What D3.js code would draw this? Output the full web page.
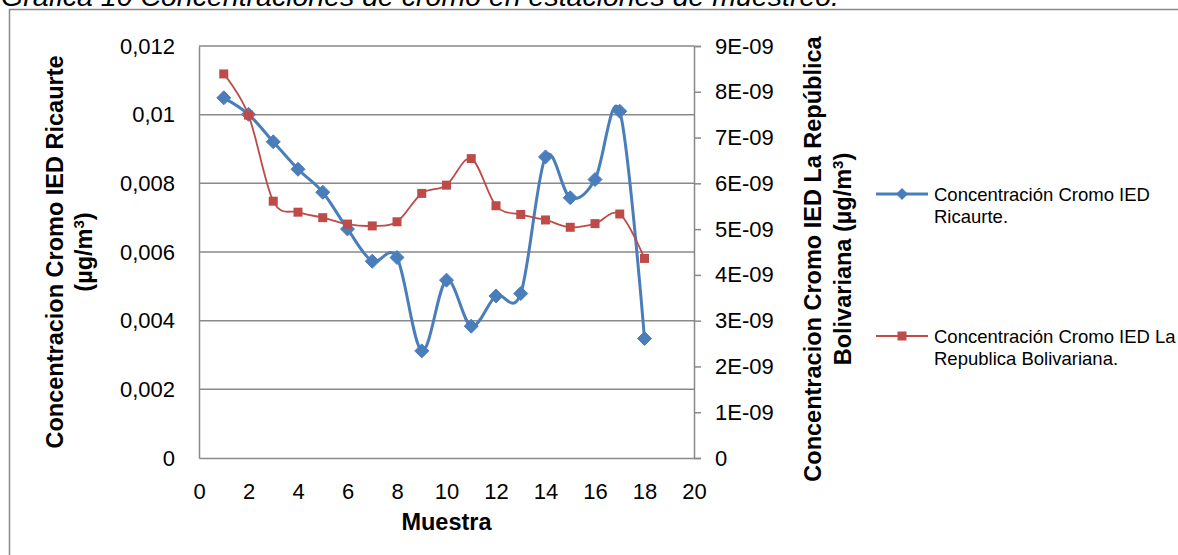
<!DOCTYPE html>
<html>
<head>
<meta charset="utf-8">
<script src="https://cdn.jsdelivr.net/npm/d3@7"></script>
<style>
  body { margin: 0; background: #fff; }
  svg { display: block; font-family: "Liberation Sans", Arial, sans-serif; }
</style>
</head>
<body>
<div id="chart"></div>
<script>
// sample numbers 1..18
const muestras = d3.range(1, 19);
// IED Ricaurte (left axis, µg/m³)
const ricaurte = [0.01049, 0.01001, 0.00921, 0.00841, 0.00774, 0.00667, 0.00573, 0.00584, 0.00312,
  0.00518, 0.00384, 0.00472, 0.00479, 0.00877, 0.00758, 0.00811, 0.0101, 0.00348];
// IED La República Bolivariana (right axis, µg/m³)
const bolivariana = [8.39e-9, 7.49e-9, 5.61e-9, 5.37e-9, 5.25e-9, 5.11e-9, 5.07e-9, 5.16e-9, 5.78e-9,
  5.96e-9, 6.54e-9, 5.51e-9, 5.32e-9, 5.20e-9, 5.04e-9, 5.12e-9, 5.33e-9, 4.36e-9];
const xTicks = d3.range(0, 21, 2);
const leftTicks = [0, 0.002, 0.004, 0.006, 0.008, 0.01, 0.012];
const leftLabels = ["0", "0,002", "0,004", "0,006", "0,008", "0,01", "0,012"];
const rightTicks = d3.range(0, 10).map(d => d * 1e-9);
const rightLabels = ["0", "1E-09", "2E-09", "3E-09", "4E-09", "5E-09", "6E-09", "7E-09", "8E-09", "9E-09"];

const W = 1178, H = 555;
const plot = { left: 199, right: 694, top: 46, bottom: 458 };
const blue = "#4a7ebb", red = "#be4b48", grid = "#898989";
const tickFont = 22, titleFont = 23.5;

const svg = d3.select("#chart").append("svg").attr("width", W).attr("height", H);

// title (cut at top as in the source)
svg.append("text").attr("x", 1).attr("y", 6)
  .attr("font-size", 28.5).attr("font-style", "italic").attr("fill", "#000")
  .text("Gráfica 10 Concentraciones de cromo en estaciones de muestreo.");

// chart frame
svg.append("rect").attr("x", 9.5).attr("y", 9.5).attr("width", W + 20).attr("height", H + 20)
  .attr("fill", "none").attr("stroke", grid).attr("stroke-width", 1.5);

const x = d3.scaleLinear().domain([0, 20]).range([plot.left, plot.right]);
const yL = d3.scaleLinear().domain([0, 0.012]).range([plot.bottom, plot.top]);
const yR = d3.scaleLinear().domain([0, 9e-9]).range([plot.bottom, plot.top]);

// gridlines
svg.append("g").selectAll("line").data(leftTicks.slice(1)).join("line")
  .attr("x1", plot.left).attr("x2", plot.right)
  .attr("y1", d => yL(d)).attr("y2", d => yL(d))
  .attr("stroke", grid).attr("stroke-width", 1.5);

function styleText(g) {
  g.selectAll("text").attr("font-size", tickFont).attr("fill", "#000")
    .attr("font-family", "Liberation Sans, Arial, sans-serif");
}

// left axis
const axL = svg.append("g").attr("transform", `translate(${plot.left},0)`)
  .call(d3.axisLeft(yL).tickValues(leftTicks).tickFormat((d, i) => leftLabels[i]).tickSize(0).tickPadding(24));
axL.select(".domain").attr("stroke", grid).attr("stroke-width", 1.5);
styleText(axL);

// right axis
const axR = svg.append("g").attr("transform", `translate(${plot.right},0)`)
  .call(d3.axisRight(yR).tickValues(rightTicks).tickFormat((d, i) => rightLabels[i]).tickSize(7).tickPadding(14));
axR.select(".domain").attr("stroke", grid).attr("stroke-width", 1.5);
axR.selectAll("line").attr("stroke", grid).attr("stroke-width", 1.5);
styleText(axR);

// bottom axis
const axB = svg.append("g").attr("transform", `translate(0,${plot.bottom})`)
  .call(d3.axisBottom(x).tickValues(xTicks).tickSize(0).tickPadding(25));
axB.select(".domain").attr("stroke", grid).attr("stroke-width", 1.5);
styleText(axB);

// axis titles
svg.append("text").attr("x", (plot.left + plot.right) / 2).attr("y", 530)
  .attr("text-anchor", "middle").attr("font-size", titleFont).attr("font-weight", "bold").text("Muestra");

const leftTitle = svg.append("text").attr("transform", `translate(63,252) rotate(-90)`)
  .attr("text-anchor", "middle").attr("font-size", titleFont).attr("font-weight", "bold");
leftTitle.append("tspan").attr("x", 0).attr("dy", 0).text("Concentracion Cromo IED Ricaurte");
const lt2 = leftTitle.append("tspan").attr("x", 0).attr("dy", 29).text("(µg/m");
lt2.append("tspan").attr("dy", -8).attr("font-size", 15).text("3");
lt2.append("tspan").attr("dy", 8).text(")");

const rightTitle = svg.append("text").attr("transform", `translate(821,259) rotate(-90)`)
  .attr("text-anchor", "middle").attr("font-size", titleFont).attr("font-weight", "bold");
rightTitle.append("tspan").attr("x", 0).attr("dy", 0).text("Concentracion Cromo IED La República");
const rt2 = rightTitle.append("tspan").attr("x", 0).attr("dy", 30).text("Bolivariana (µg/m");
rt2.append("tspan").attr("dy", -8).attr("font-size", 15).text("3");
rt2.append("tspan").attr("dy", 8).text(")");

// series
const smooth = d3.curveCatmullRom.alpha(0);
const lineL = d3.line().x((d, i) => x(muestras[i])).y(d => yL(d)).curve(smooth);
const lineR = d3.line().x((d, i) => x(muestras[i])).y(d => yR(d)).curve(smooth);

svg.append("path").attr("d", lineL(ricaurte)).attr("fill", "none").attr("stroke", blue).attr("stroke-width", 3);
svg.append("g").selectAll("path").data(ricaurte).join("path")
  .attr("transform", (d, i) => `translate(${x(muestras[i])},${yL(d)})`)
  .attr("d", "M0,-7L7,0L0,7L-7,0Z").attr("fill", blue).attr("stroke", blue).attr("stroke-width", 1);

svg.append("path").attr("d", lineR(bolivariana)).attr("fill", "none").attr("stroke", red).attr("stroke-width", 1.8);
svg.append("g").selectAll("rect").data(bolivariana).join("rect")
  .attr("x", (d, i) => x(muestras[i]) - 4.5).attr("y", d => yR(d) - 4.5)
  .attr("width", 9).attr("height", 9).attr("fill", red);

// legend
const legend = [
  { color: blue, y: 194, lines: ["Concentración Cromo IED", "Ricaurte."], marker: "diamond" },
  { color: red, y: 336, lines: ["Concentración Cromo IED La", "Republica Bolivariana."], marker: "square" }
];
const lg = svg.append("g").selectAll("g").data(legend).join("g")
  .attr("transform", d => `translate(876,${d.y})`);
lg.append("line").attr("x1", 0).attr("x2", 52)
  .attr("stroke", d => d.color).attr("stroke-width", d => d.marker === "diamond" ? 3 : 1.8);
lg.filter(d => d.marker === "diamond").append("path")
  .attr("transform", "translate(26,0)").attr("d", "M0,-6L6,0L0,6L-6,0Z").attr("fill", blue);
lg.filter(d => d.marker === "square").append("rect")
  .attr("x", 21.5).attr("y", -4.5).attr("width", 9).attr("height", 9).attr("fill", red);
lg.append("text").attr("font-size", 18.5)
  .selectAll("tspan").data(d => d.lines).join("tspan")
  .attr("x", 58).attr("y", (d, i) => 7 + i * 22).text(d => d);
</script>
</body>
</html>
